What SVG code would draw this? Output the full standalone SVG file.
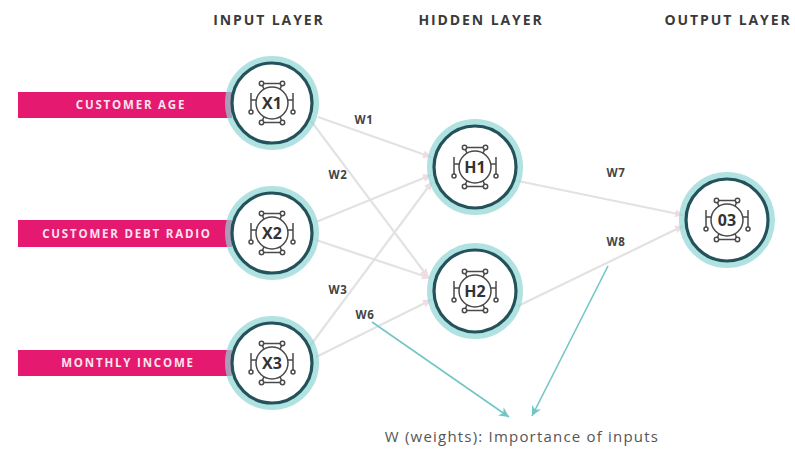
<svg xmlns="http://www.w3.org/2000/svg" width="795" height="452" viewBox="0 0 795 452">
<style>
.hdr{font-family:"Open Sans","Liberation Sans",sans-serif;font-weight:700;font-size:14px;fill:#3a3a3a;text-anchor:middle;letter-spacing:1.9px}
.bar{fill:#e5196f}
.bartxt{font-family:"Open Sans","Liberation Sans",sans-serif;font-weight:700;font-size:11.5px;fill:#fbe3ee;text-anchor:middle;letter-spacing:1.8px}
.glow{fill:none;stroke:#8fd5d5;stroke-width:6;opacity:0.7}
.ring{fill:#ffffff;stroke:#24525a;stroke-width:3.2}
.lbl{font-family:"Open Sans","Liberation Sans",sans-serif;font-weight:700;font-size:16px;fill:#333;text-anchor:middle}
.w{font-family:"Open Sans","Liberation Sans",sans-serif;font-weight:700;font-size:11.5px;fill:#444;text-anchor:middle;letter-spacing:0.6px}
.edge{stroke:#e2e2e2;stroke-width:2.2;fill:none;marker-end:url(#ga)}
.note{stroke:#72c6c6;stroke-width:1.6;fill:none;marker-end:url(#ta)}
.foot{font-family:"Open Sans","Liberation Sans",sans-serif;font-size:15px;fill:#555;text-anchor:middle;letter-spacing:1.2px}
.gear{fill:none;stroke:#4a4a4a;stroke-width:1.5}
</style>
<defs>
<marker id="ga" markerWidth="10" markerHeight="10" refX="8" refY="5" orient="auto" markerUnits="userSpaceOnUse">
<path d="M0,1 L9,5 L0,9 Z" fill="#f3dbe3"/>
</marker>
<marker id="ta" markerWidth="12" markerHeight="12" refX="10" refY="6" orient="auto" markerUnits="userSpaceOnUse">
<path d="M0,1 L10,6 L0,11 L3,6 Z" fill="#72c6c6"/>
</marker>
<g id="gear" class="gear">
<circle r="16"/>
<path d="M-8,-13.9 L-10.5,-19.5 M8,-13.9 L10.5,-19.5 M-8,13.9 L-10.5,19.5 M8,13.9 L10.5,19.5 M-10.5,-19.5 L10.5,-19.5 M-10.5,19.5 L10.5,19.5"/>
<path d="M-16,-3 L-21,-3 M-21,-10 L-21,9 M16,-3 L21,-3 M21,-10 L21,9"/>
<circle r="2.2" cx="-10.5" cy="-19.5" fill="#fff"/>
<circle r="2.2" cx="10.5" cy="-19.5" fill="#fff"/>
<circle r="2.2" cx="-10.5" cy="19.5" fill="#fff"/>
<circle r="2.2" cx="10.5" cy="19.5" fill="#fff"/>
<circle r="2" cx="-21" cy="9" fill="#fff"/>
<circle r="2" cx="21" cy="9" fill="#fff"/>
</g>
</defs>
<rect width="795" height="452" fill="#ffffff"/>

<g id="headers">
<text class="hdr" x="269" y="25">INPUT LAYER</text>
<text class="hdr" x="481" y="25">HIDDEN LAYER</text>
<text class="hdr" x="728" y="25">OUTPUT LAYER</text>
</g>

<g id="connectors">
<line class="edge" x1="318" y1="117" x2="431" y2="157"/>
<line class="edge" x1="311" y1="121" x2="428" y2="277"/>
<line class="edge" x1="316" y1="222" x2="431" y2="175"/>
<line class="edge" x1="316" y1="240" x2="430" y2="278"/>
<line class="edge" x1="310" y1="346" x2="432" y2="182"/>
<line class="edge" x1="316" y1="357" x2="431" y2="300"/>
<line class="edge" x1="518" y1="181" x2="683" y2="215"/>
<line class="edge" x1="518" y1="306" x2="683" y2="226"/>
<line class="note" x1="372" y1="322" x2="509" y2="417"/>
<line class="note" x1="608" y1="266" x2="532" y2="416"/>
</g>

<g id="weights">
<text class="w" x="364" y="124">W1</text>
<text class="w" x="338" y="179">W2</text>
<text class="w" x="338" y="294">W3</text>
<text class="w" x="365" y="319">W6</text>
<text class="w" x="616" y="177">W7</text>
<text class="w" x="616" y="246">W8</text>
</g>

<g id="in-age">
<rect class="bar" x="18" y="92" width="214" height="26"/>
<text class="bartxt" x="131" y="109">CUSTOMER AGE</text>
</g>
<g id="in-debt">
<rect class="bar" x="18" y="220" width="214" height="27"/>
<text class="bartxt" x="127" y="237.5">CUSTOMER DEBT RADIO</text>
</g>
<g id="in-income">
<rect class="bar" x="18" y="350" width="214" height="26"/>
<text class="bartxt" x="128" y="367">MONTHLY INCOME</text>
</g>

<g id="X1">
<circle class="glow" cx="272" cy="103" r="44"/>
<circle class="ring" cx="272" cy="103" r="40"/>
<use href="#gear" x="272" y="103"/>
<text class="lbl" x="272" y="108.5">X1</text>
</g>
<g id="X2">
<circle class="glow" cx="272" cy="233" r="44"/>
<circle class="ring" cx="272" cy="233" r="40"/>
<use href="#gear" x="272" y="233"/>
<text class="lbl" x="272" y="238.5">X2</text>
</g>
<g id="X3">
<circle class="glow" cx="272" cy="363" r="44"/>
<circle class="ring" cx="272" cy="363" r="40"/>
<use href="#gear" x="272" y="363"/>
<text class="lbl" x="272" y="368.5">X3</text>
</g>
<g id="H1">
<circle class="glow" cx="475" cy="167" r="45"/>
<circle class="ring" cx="475" cy="167" r="41"/>
<use href="#gear" x="475" y="167"/>
<text class="lbl" x="475" y="172.5">H1</text>
</g>
<g id="H2">
<circle class="glow" cx="475" cy="291" r="45"/>
<circle class="ring" cx="475" cy="291" r="41"/>
<use href="#gear" x="475" y="291"/>
<text class="lbl" x="475" y="296.5">H2</text>
</g>
<g id="O3">
<circle class="glow" cx="727" cy="220" r="45"/>
<circle class="ring" cx="727" cy="220" r="41"/>
<use href="#gear" x="727" y="220"/>
<text class="lbl" x="727" y="225.5">03</text>
</g>

<text class="foot" x="522" y="442">W (weights): Importance of inputs</text>
</svg>
